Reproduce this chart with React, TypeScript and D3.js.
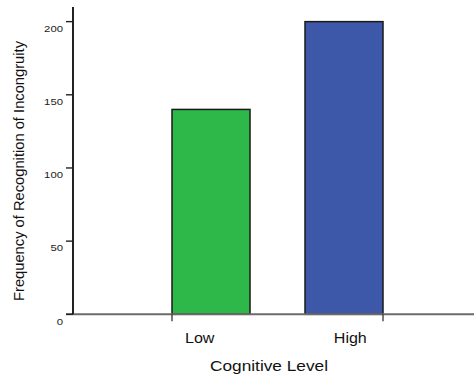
import React from "react";
import * as d3 from "d3";

const categories: string[] = ["Low", "High"];
const values: number[] = [140, 200];
const barColors: string[] = ["#2fb84a", "#3d58a8"];
const yTicks: number[] = [0, 50, 100, 150, 200];
const yTitle = "Frequency of Recognition of Incongruity";
const xTitle = "Cognitive Level";

const W = 474;
const H = 376;

export default function App() {
  const y = d3.scaleLinear().domain([0, 210]).range([314.3, 7]);
  const step = 133;
  const pad = 55 / step;
  const x = d3
    .scaleBand<string>()
    .domain(categories)
    .range([117, 438])
    .paddingInner(pad)
    .paddingOuter(pad);
  const labelX = d3.scalePoint<string>().domain(categories).range([199.7, 350.3]);
  const bw = x.bandwidth();
  const y0 = y(0);
  const axisLeft = 73;
  const yTop = y(210);
  const font = "'Liberation Sans', Arial, sans-serif";

  return (
    <svg
      width={W}
      height={H}
      style={{ position: "absolute", left: 0, top: 0, background: "#fff" }}
      fontFamily={font}
    >
      {/* bars */}
      {categories.map((c, i) => (
        <rect
          key={c}
          x={x(c)!}
          y={y(values[i])}
          width={bw}
          height={y0 - y(values[i])}
          fill={barColors[i]}
          stroke="#1a1a1a"
          strokeWidth={1.5}
        />
      ))}
      {/* x axis */}
      <path d={`M66,${y0}H474`} stroke="#6b6b6b" strokeWidth={2} fill="none" />
      {/* x ticks at outer bar edges */}
      <path
        d={`M${x(categories[0])!},${y0}v7M${x(categories[1])! + bw},${y0}v7`}
        stroke="#333"
        strokeWidth={1.3}
        fill="none"
      />
      {/* y axis */}
      <path d={`M${axisLeft},${yTop}V${y0}`} stroke="#222" strokeWidth={2} fill="none" />
      {yTicks.map((t) => (
        <g key={t}>
          <path d={`M66,${y(t)}H${axisLeft}`} stroke="#222" strokeWidth={1.4} fill="none" />
          <text
            x={63}
            y={y(t) + 10.3}
            fontSize={9.5}
            textAnchor="end"
            fill="#222"
            textLength={String(t).length * 6.3}
            lengthAdjust="spacingAndGlyphs"
          >
            {t}
          </text>
        </g>
      ))}
      {/* category labels */}
      {categories.map((c) => (
        <text
          key={c}
          x={labelX(c)!}
          y={343}
          fontSize={14}
          textAnchor="middle"
          fill="#111"
          textLength={c === "Low" ? 29.5 : 33}
          lengthAdjust="spacingAndGlyphs"
        >
          {c}
        </text>
      ))}
      {/* axis titles */}
      <text
        x={269}
        y={371}
        fontSize={14.5}
        textAnchor="middle"
        fill="#111"
        textLength={118}
        lengthAdjust="spacingAndGlyphs"
      >
        {xTitle}
      </text>
      <text
        transform="translate(23.5,171) rotate(-90)"
        fontSize={14}
        textAnchor="middle"
        fill="#111"
        textLength={260}
        lengthAdjust="spacingAndGlyphs"
      >
        {yTitle}
      </text>
    </svg>
  );
}
